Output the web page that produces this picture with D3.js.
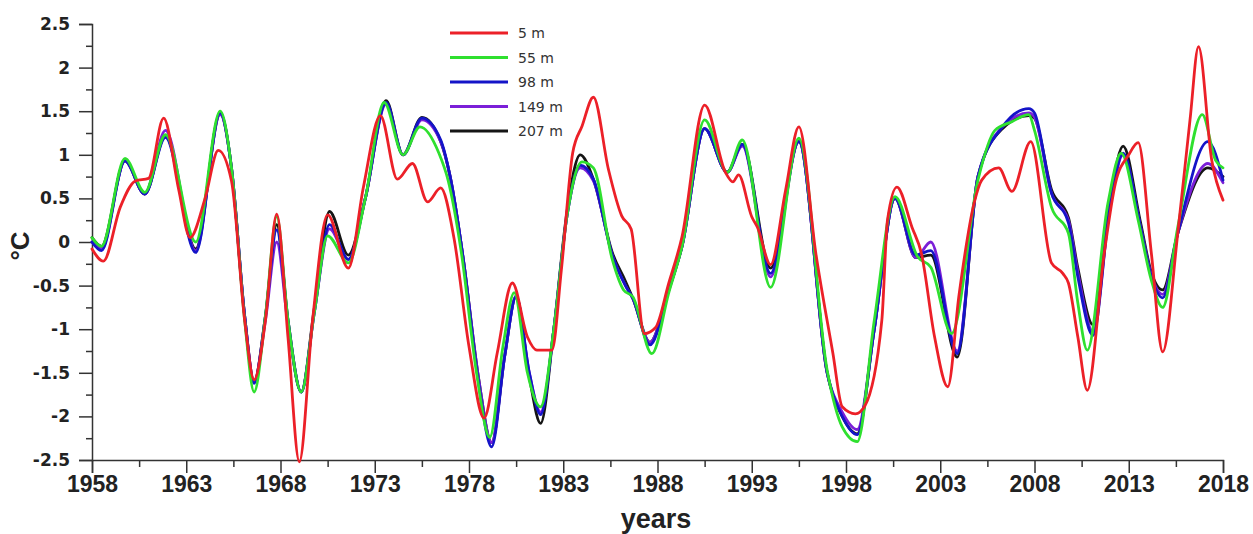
<!DOCTYPE html>
<html>
<head>
<meta charset="utf-8">
<script src="https://cdn.jsdelivr.net/npm/d3@7"></script>
<style>
  html, body { margin: 0; padding: 0; background: #fff; }
  svg { display: block; }
</style>
</head>
<body>
<svg id="chart" width="1253" height="534"></svg>
<script>
// Temperature anomaly (°C) at five depths, 1958–2018
const yearTicks = [1958, 1963, 1968, 1973, 1978, 1983, 1988, 1993, 1998, 2003, 2008, 2013, 2018];
const valueTicks = [-2.5, -2, -1.5, -1, -0.5, 0, 0.5, 1, 1.5, 2, 2.5];
const depthLabels = ["5 m", "55 m", "98 m", "149 m", "207 m"];
const depthColors = ["#ec2028", "#2fe02f", "#1414c8", "#7b1fd8", "#151515"];

const years5 = [1958,1958.6,1959.5,1960.3,1961.0,1961.8,1962.6,1963.2,1964.0,1964.7,1965.4,1966.1,1966.6,1967.2,1967.8,1968.4,1969.0,1969.7,1970.5,1971.6,1972.4,1973.3,1974.2,1975.0,1975.8,1976.5,1977.2,1978.0,1978.8,1979.5,1980.3,1981.1,1981.6,1982.4,1982.9,1983.5,1984.0,1984.6,1985.4,1986.1,1986.6,1987.3,1987.9,1988.6,1989.3,1990.5,1991.6,1992.0,1992.3,1993.0,1993.3,1994.0,1994.8,1995.5,1996.4,1997.3,1997.8,1998.5,1999.0,1999.9,2000.2,2000.7,2001.5,2002.0,2002.7,2003.4,2004.0,2004.8,2005.2,2006.1,2006.8,2007.8,2008.9,2009.5,2009.8,2010.3,2010.8,2011.7,2012.3,2013.0,2013.5,2014.2,2014.8,2015.6,2016.25,2016.7,2017.4,2018];
const temp5 = [-0.08,-0.22,0.4,0.7,0.73,1.42,0.6,0.05,0.5,1.05,0.7,-0.9,-1.58,-0.9,0.32,-1.1,-2.52,-0.9,0.31,-0.3,0.63,1.45,0.72,0.9,0.46,0.62,0.05,-1.2,-2.02,-1.27,-0.47,-1.09,-1.24,-1.24,-0.32,1.02,1.33,1.66,0.83,0.3,0.15,-1.05,-0.98,-0.47,0.06,1.57,0.8,0.69,0.77,0.29,0.17,-0.26,0.6,1.32,-0.13,-1.27,-1.89,-1.97,-1.88,-0.9,0.25,0.63,0.17,-0.13,-1.09,-1.66,-0.6,0.45,0.71,0.85,0.58,1.15,-0.24,-0.36,-0.47,-1.09,-1.7,-0.13,0.68,1.0,1.14,-0.13,-1.26,0.1,1.4,2.24,0.94,0.48];

const years55 = [1958,1958.5,1959.75,1960.8,1961.9,1963.5,1964.8,1965.4,1966.1,1966.6,1967.2,1967.8,1968.4,1969.1,1969.8,1970.5,1971.6,1972.5,1973.5,1974.5,1975.4,1976.4,1976.9,1977.6,1978.4,1979.1,1979.8,1980.4,1981.1,1981.8,1982.5,1983.2,1984.0,1984.6,1985.6,1986.2,1986.7,1987.7,1988.6,1989.3,1990.5,1991.7,1992.5,1994.0,1995.5,1997.0,1997.8,1998.6,1999.5,2000.6,2001.8,2002.5,2003.6,2005.0,2005.9,2006.8,2007.7,2008.0,2008.9,2009.8,2010.3,2010.8,2011.9,2012.6,2013.5,2014.2,2014.8,2015.6,2016.9,2017.6,2018];
const temp55 = [0.05,-0.05,0.96,0.57,1.23,0.0,1.5,0.85,-0.9,-1.72,-0.85,0.29,-0.9,-1.72,-0.8,0.07,-0.24,0.5,1.6,1.0,1.32,1.02,0.7,-0.13,-1.5,-2.24,-1.2,-0.58,-1.5,-1.89,-1.0,0.3,0.92,0.85,-0.2,-0.55,-0.63,-1.28,-0.58,-0.05,1.4,0.8,1.17,-0.52,1.19,-1.47,-2.12,-2.29,-0.9,0.52,-0.17,-0.29,-1.05,0.71,1.28,1.38,1.46,1.28,0.4,0.1,-0.7,-1.24,0.45,1.02,0.25,-0.44,-0.75,0.17,1.46,0.94,0.85];

// the three deeper levels share the same time stamps
const yearsDeep = [1958,1958.5,1959.75,1960.8,1961.9,1963.5,1964.8,1965.4,1966.1,1966.6,1967.2,1967.8,1968.4,1969.1,1969.8,1970.6,1971.6,1972.5,1973.6,1974.5,1975.5,1976.5,1977.0,1977.7,1978.5,1979.2,1979.9,1980.5,1981.2,1981.8,1982.5,1983.2,1983.9,1984.6,1985.6,1986.3,1986.7,1987.6,1988.6,1989.3,1990.5,1991.7,1992.5,1994.0,1995.5,1997.0,1997.8,1998.6,1999.5,2000.6,2001.7,2002.5,2003.9,2005.0,2006.3,2007.7,2008.0,2008.9,2009.8,2010.3,2011.1,2012.0,2012.7,2013.6,2014.2,2014.8,2015.6,2017.2,2018];
const temp98 = [0.0,-0.1,0.93,0.55,1.2,-0.12,1.48,0.85,-0.85,-1.62,-0.85,0.14,-0.9,-1.72,-0.8,0.2,-0.2,0.5,1.6,1.0,1.42,1.17,0.75,-0.2,-1.6,-2.35,-1.3,-0.63,-1.5,-1.98,-1.0,0.3,0.88,0.72,-0.15,-0.5,-0.65,-1.18,-0.55,-0.05,1.3,0.8,1.12,-0.36,1.15,-1.5,-2.0,-2.21,-1.0,0.5,-0.15,-0.1,-1.28,0.75,1.32,1.53,1.48,0.56,0.22,-0.4,-1.07,0.4,1.02,0.2,-0.4,-0.64,0.1,1.15,0.71];
const temp149 = [0.0,-0.08,0.93,0.55,1.28,-0.1,1.46,0.85,-0.85,-1.6,-0.9,0.0,-0.95,-1.72,-0.8,0.15,-0.2,0.5,1.58,1.0,1.4,1.15,0.75,-0.2,-1.55,-2.3,-1.3,-0.62,-1.5,-1.95,-1.0,0.3,0.85,0.7,-0.15,-0.5,-0.65,-1.15,-0.55,-0.05,1.3,0.8,1.1,-0.4,1.15,-1.5,-1.95,-2.15,-1.0,0.5,-0.18,0.0,-1.25,0.75,1.32,1.48,1.43,0.56,0.25,-0.35,-1.03,0.4,1.0,0.2,-0.38,-0.6,0.1,0.9,0.68];
const temp207 = [0.05,-0.05,0.93,0.55,1.22,-0.08,1.47,0.85,-0.85,-1.6,-0.85,0.2,-0.9,-1.72,-0.75,0.35,-0.15,0.5,1.62,1.0,1.43,1.15,0.75,-0.2,-1.55,-2.3,-1.3,-0.62,-1.55,-2.08,-1.0,0.35,1.0,0.72,-0.12,-0.45,-0.65,-1.15,-0.55,-0.05,1.3,0.8,1.12,-0.3,1.15,-1.5,-2.0,-2.2,-1.0,0.5,-0.18,-0.15,-1.32,0.75,1.3,1.45,1.42,0.6,0.28,-0.3,-0.95,0.45,1.1,0.25,-0.35,-0.55,0.1,0.85,0.75];

const series = [
  { name: depthLabels[0], color: depthColors[0], years: years5, values: temp5 },
  { name: depthLabels[1], color: depthColors[1], years: years55, values: temp55 },
  { name: depthLabels[2], color: depthColors[2], years: yearsDeep, values: temp98 },
  { name: depthLabels[3], color: depthColors[3], years: yearsDeep, values: temp149 },
  { name: depthLabels[4], color: depthColors[4], years: yearsDeep, values: temp207 }
];

const svg = d3.select("#chart");
const plotLeft = 92, plotRight = 1223, plotTop = 24, plotBottom = 460;

const x = d3.scaleLinear().domain([1958, 2018]).range([plotLeft, plotRight]);
const y = d3.scaleLinear().domain([-2.5, 2.5]).range([plotBottom, plotTop]);

const minorYears = d3.range(1958, 2018.01, 2.5).filter(v => !yearTicks.includes(v));
const minorValues = d3.range(-2.5, 2.51, 0.25).filter(v => !valueTicks.some(t => Math.abs(t - v) < 1e-9));

const axisColor = "#333";

// x axis: major and minor ticks
const gx = svg.append("g").attr("transform", `translate(0,${plotBottom})`);
gx.call(d3.axisBottom(x).tickValues(yearTicks).tickSize(13).tickFormat(d3.format("d")));
gx.selectAll(".tick line").attr("stroke", axisColor).attr("stroke-width", 1.5);
gx.select(".domain").attr("stroke", axisColor).attr("stroke-width", 1.5);
gx.selectAll(".tick text")
  .attr("y", 16).attr("dy", "0.71em")
  .style("font-family", "'Liberation Sans', Arial, sans-serif")
  .style("font-weight", "bold").style("font-size", "23px").attr("fill", "#222");
const gxm = svg.append("g").attr("transform", `translate(0,${plotBottom})`);
gxm.call(d3.axisBottom(x).tickValues(minorYears).tickSize(7).tickFormat(""));
gxm.select(".domain").remove();
gxm.selectAll(".tick line").attr("stroke", axisColor).attr("stroke-width", 1.5);

// y axis: major and minor ticks
const gy = svg.append("g").attr("transform", `translate(${plotLeft},0)`);
gy.call(d3.axisLeft(y).tickValues(valueTicks).tickSize(13).tickFormat(d => String(d)));
gy.select(".domain").attr("stroke", axisColor).attr("stroke-width", 1.5);
gy.selectAll(".tick line").attr("stroke", axisColor).attr("stroke-width", 1.5);
gy.selectAll(".tick text")
  .attr("x", -22)
  .style("font-family", "'DejaVu Sans', sans-serif")
  .style("font-weight", "bold").style("font-size", "17px").attr("fill", "#222");
const gym = svg.append("g").attr("transform", `translate(${plotLeft},0)`);
gym.call(d3.axisLeft(y).tickValues(minorValues).tickSize(6).tickFormat(""));
gym.select(".domain").remove();
gym.selectAll(".tick line").attr("stroke", axisColor).attr("stroke-width", 1.5);

// axis titles
svg.append("text")
  .attr("x", 656).attr("y", 528)
  .attr("text-anchor", "middle")
  .style("font-family", "'Liberation Sans', Arial, sans-serif")
  .style("font-weight", "bold").style("font-size", "27px").attr("fill", "#222")
  .text("years");
svg.append("text")
  .attr("transform", "translate(29,246) rotate(-90)")
  .attr("text-anchor", "middle")
  .style("font-family", "'Liberation Sans', Arial, sans-serif")
  .style("font-weight", "bold").style("font-size", "26px").attr("fill", "#222")
  .text("°C");

// curves: deepest first, surface last
const line = d3.line()
  .x(d => x(d[0]))
  .y(d => y(d[1]))
  .curve(d3.curveMonotoneX);

const drawOrder = [4, 3, 2, 1, 0];
svg.append("g").selectAll("path")
  .data(drawOrder.map(i => series[i]))
  .join("path")
  .attr("d", s => line(s.years.map((yr, i) => [yr, s.values[i]])))
  .attr("fill", "none")
  .attr("stroke", s => s.color)
  .attr("stroke-width", 2.8)
  .attr("stroke-linejoin", "round")
  .attr("stroke-linecap", "round");

// legend
const legend = svg.append("g");
const rowY = d3.scalePoint().domain(depthLabels).range([33, 131]);
series.forEach(s => {
  const ly = rowY(s.name);
  legend.append("line")
    .attr("x1", 450).attr("x2", 508).attr("y1", ly).attr("y2", ly)
    .attr("stroke", s.color).attr("stroke-width", 2.8);
  legend.append("text")
    .attr("x", 518).attr("y", ly + 5)
    .style("font-family", "'DejaVu Sans', sans-serif")
    .style("font-size", "14px").attr("fill", "#333")
    .text(s.name);
});
</script>
</body>
</html>
